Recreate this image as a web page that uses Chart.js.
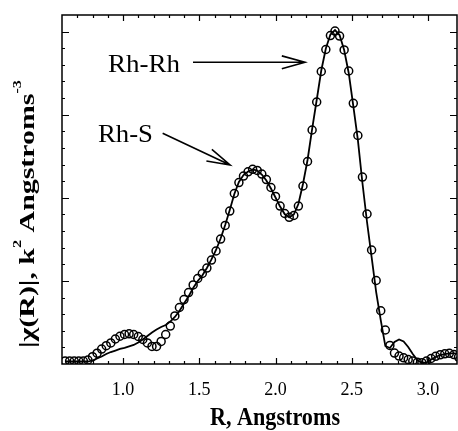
<!DOCTYPE html>
<html><head><meta charset="utf-8">
<script src="https://cdn.jsdelivr.net/npm/chart.js@4.4.1/dist/chart.umd.min.js"></script>
<style>html,body{margin:0;padding:0;background:#fff;overflow:hidden}canvas{display:block}</style>
</head><body>
<canvas id="c" width="458" height="431"></canvas>
<script>
const rValues = [0.62,0.65,0.68,0.71,0.74,0.77,0.80,0.83,0.86,0.89,
0.92,0.95,0.98,1.01,1.04,1.07,1.10,1.13,1.16,1.19,
1.22,1.25,1.28,1.31,1.34,1.37,1.40,1.43,1.46,1.49,
1.52,1.55,1.58,1.61,1.64,1.67,1.70,1.73,1.76,1.79,
1.82,1.85,1.88,1.91,1.94,1.97,2.00,2.03,2.06,2.09,
2.12,2.15,2.18,2.21,2.24,2.27,2.30,2.33,2.36,2.39,
2.42,2.45,2.48,2.51,2.54,2.57,2.60,2.63,2.66,2.69,
2.72,2.75,2.78,2.81,2.84,2.87,2.90,2.93,2.96,2.99,
3.02,3.05,3.08,3.11,3.14,3.17,3.20];

const dataValues = [0.036,0.036,0.036,0.036,0.036,0.048,0.088,0.130,0.180,0.220,
0.253,0.301,0.334,0.355,0.363,0.355,0.331,0.295,0.253,0.211,
0.211,0.271,0.355,0.457,0.578,0.680,0.776,0.860,0.951,1.029,
1.089,1.155,1.251,1.360,1.504,1.667,1.841,2.052,2.184,2.262,
2.313,2.343,2.329,2.286,2.220,2.124,2.016,1.901,1.811,1.765,
1.787,1.901,2.142,2.437,2.816,3.153,3.520,3.785,3.953,4.007,
3.947,3.779,3.526,3.137,2.750,2.250,1.805,1.372,1.005,0.641,
0.409,0.223,0.132,0.096,0.075,0.054,0.036,0.020,0.016,0.036,
0.066,0.093,0.111,0.123,0.129,0.114,0.084];

const fitValues = [0.030,0.030,0.030,0.030,0.030,0.030,0.042,0.066,0.090,0.120,
0.144,0.162,0.181,0.193,0.211,0.229,0.259,0.295,0.337,0.379,
0.415,0.445,0.469,0.511,0.566,0.638,0.728,0.812,0.915,0.999,
1.065,1.155,1.258,1.372,1.510,1.673,1.853,2.046,2.190,2.274,
2.316,2.340,2.329,2.280,2.208,2.112,2.004,1.895,1.805,1.763,
1.799,1.925,2.166,2.455,2.828,3.177,3.532,3.797,3.965,4.019,
3.959,3.779,3.502,3.105,2.696,2.178,1.709,1.288,0.866,0.529,
0.217,0.193,0.265,0.295,0.271,0.205,0.120,0.048,0.012,0.018,
0.054,0.084,0.108,0.120,0.129,0.129,0.126];

const xTickLabels = ['1.0','1.5','2.0','2.5','3.0'];
const xTitle = 'R, Angstroms';
const yTitleParts = ['|\u03C7(R)|, k', '2', ' Angstroms', '-3'];
const annotationTexts = ['Rh-Rh', 'Rh-S'];

const SERIF = '"Liberation Serif", "Times New Roman", "DejaVu Serif", serif';

function toXY(xs, ys){ return xs.map((x,i)=>({x:x, y:ys[i]})); }

function drawParts(ctx, parts, x, y, rot, targetLen, vScale){
  let w = 0;
  parts.forEach(p => { ctx.font = p.font; p.w = ctx.measureText(p.t).width; w += p.w; });
  const s = targetLen / w;
  ctx.save();
  ctx.translate(x, y); ctx.rotate(rot); ctx.scale(s, vScale || 1);
  ctx.textBaseline = 'alphabetic'; ctx.textAlign = 'left';
  let cx = 0;
  parts.forEach(p => { ctx.font = p.font; ctx.fillText(p.t, cx, p.dy || 0); cx += p.w; });
  ctx.restore();
}

function arrow(ctx, x1, y1, x2, y2){
  const ang = Math.atan2(y2 - y1, x2 - x1);
  const L = 24, h = 0.27;
  ctx.beginPath();
  ctx.moveTo(x1, y1); ctx.lineTo(x2, y2);
  ctx.moveTo(x2 - L*Math.cos(ang - h), y2 - L*Math.sin(ang - h));
  ctx.lineTo(x2, y2);
  ctx.lineTo(x2 - L*Math.cos(ang + h), y2 - L*Math.sin(ang + h));
  ctx.stroke();
}

const decorPlugin = {
  id: 'decor',
  afterDraw(chart, args, opts){
    const ctx = chart.ctx, a = chart.chartArea, xs = chart.scales.x, ys = chart.scales.y;
    ctx.save();
    ctx.strokeStyle = '#000'; ctx.fillStyle = '#000';
    ctx.lineWidth = 1.5;
    ctx.strokeRect(a.left, a.top, a.right - a.left, a.bottom - a.top);
    ctx.lineWidth = 1.2;
    ctx.beginPath();
    xs.ticks.forEach(t => {
      const v = t.value, px = Math.round(xs.getPixelForValue(v)) + 0.5;
      if (px < a.left + 2 || px > a.right - 2) return;
      const major = Math.abs(v*2 - Math.round(v*2)) < 1e-6;
      const L = major ? 6 : 3;
      ctx.moveTo(px, a.bottom); ctx.lineTo(px, a.bottom - L);
      ctx.moveTo(px, a.top); ctx.lineTo(px, a.top + L);
    });
    ys.ticks.forEach(t => {
      const v = t.value, py = Math.round(ys.getPixelForValue(v)) + 0.5;
      if (py < a.top + 2 || py > a.bottom - 2) return;
      const major = Math.abs(v - Math.round(v)) < 1e-6;
      const L = major ? 7 : 3;
      ctx.moveTo(a.left, py); ctx.lineTo(a.left + L, py);
      ctx.moveTo(a.right, py); ctx.lineTo(a.right - L, py);
    });
    ctx.stroke();

    drawParts(ctx, [{t: xTitle, font: 'bold 25px ' + SERIF}], 210, 425, 0, 130, 1);
    drawParts(ctx, [
      {t: yTitleParts[0], font: 'bold 22px ' + SERIF},
      {t: yTitleParts[1], font: 'bold 12px ' + SERIF, dy: -13},
      {t: yTitleParts[2], font: 'bold 22px ' + SERIF},
      {t: yTitleParts[3], font: 'bold 12px ' + SERIF, dy: -13}
    ], 34, 348, -Math.PI/2, 268, 1);

    opts.labels.forEach((l, i) => {
      drawParts(ctx, [{t: annotationTexts[i], font: '26px ' + SERIF}],
        xs.getPixelForValue(l.x), ys.getPixelForValue(l.y), 0, l.w, 1);
    });
    ctx.lineWidth = 1.6;
    opts.arrows.forEach(r => {
      arrow(ctx, xs.getPixelForValue(r.x1), ys.getPixelForValue(r.y1),
                 xs.getPixelForValue(r.x2), ys.getPixelForValue(r.y2));
    });
    ctx.restore();
  }
};

new Chart(document.getElementById('c'), {
  type: 'scatter',
  data: {
    datasets: [
      {
        label: 'Fit', data: toXY(rValues, fitValues), showLine: true,
        borderColor: '#000', borderWidth: 1.8, pointRadius: 0, tension: 0, fill: false, order: 1
      },
      {
        label: 'Data', data: toXY(rValues, dataValues), showLine: false,
        borderColor: '#000', backgroundColor: 'rgba(0,0,0,0)', borderWidth: 1.5,
        pointRadius: 4, pointStyle: 'circle', order: 2
      }
    ]
  },
  options: {
    responsive: false, animation: false, devicePixelRatio: 1,
    layout: { autoPadding: false, padding: { left: 0, right: 1, top: 15, bottom: 0 } },
    plugins: {
      legend: { display: false }, tooltip: { enabled: false },
      decor: {
        labels: [ {x: 0.902, y: 3.514, w: 72}, {x: 0.836, y: 2.671, w: 55} ],
        arrows: [ {x1: 1.459, y1: 3.631, x2: 2.193, y2: 3.631},
                  {x1: 1.260, y1: 2.776, x2: 1.702, y2: 2.395} ]
      }
    },
    scales: {
      x: {
        type: 'linear', position: 'bottom', min: 0.6, max: 3.19,
        grid: { display: false }, border: { display: false },
        ticks: {
          stepSize: 0.1, autoSkip: false, maxRotation: 0, padding: 7,
          color: '#000', font: { family: SERIF, size: 18 },
          callback: v => { const s = Number(v).toFixed(1); return xTickLabels.includes(s) && Math.abs(v*2 - Math.round(v*2)) < 1e-6 ? s : ''; }
        },
        afterFit: s => { s.height = 67; s.paddingLeft = 0; s.paddingRight = 0; }
      },
      y: {
        type: 'linear', min: 0, max: 4.2,
        grid: { display: false }, border: { display: false },
        ticks: { display: false, stepSize: 0.2 },
        afterFit: s => { s.width = 62; s.paddingTop = 0; s.paddingBottom = 0; }
      }
    }
  },
  plugins: [decorPlugin]
});
</script>
</body></html>
